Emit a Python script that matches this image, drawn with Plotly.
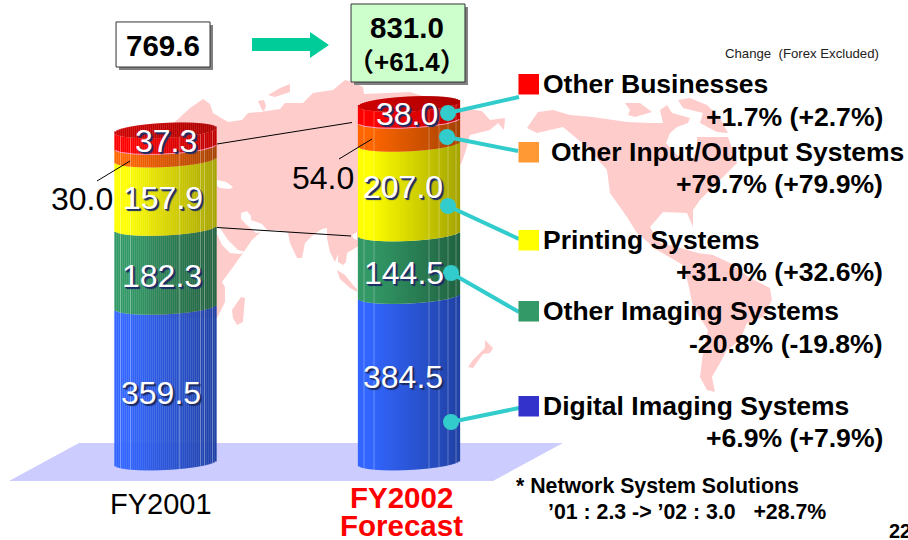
import math
import plotly.graph_objects as go

# ---------- data ----------
categories = ["FY2001", "FY2002 Forecast"]
segments = ["Digital Imaging Systems", "Other Imaging Systems", "Printing Systems",
            "Other Input/Output Systems", "Other Businesses"]
fy2001 = [359.5, 182.3, 157.9, 30.0, 37.3]
fy2002 = [384.5, 144.5, 207.0, 54.0, 38.0]
totals = ["769.6", "831.0"]
total_change = "（+61.4）"
changes = ["+6.9% (+7.9%)", "-20.8% (-19.8%)", "+31.0% (+32.6%)", "+79.7% (+79.9%)", "+1.7% (+2.7%)"]

# ---------- style ----------
W, H = 908, 540
BASE_PX, PX_PER_UNIT = 462.5, 0.433
SAG, TILT = 7.5, 2.5
FONT = "Liberation Sans"
face_colors = [(0x33, 0x66, 0xff), (0x33, 0x99, 0x66), (0xff, 0xff, 0x00), (0xff, 0x66, 0x00), (0xff, 0x00, 0x00)]
key_colors = ["#3333cc", "#339966", "#ffff00", "#ff9933", "#ff0000"]
TEAL = "#33cccc"
PINK = "#ffcccc"


def fx(x): return x / W
def fy(y): return 1 - y / H
def path(pts): return "M " + " L ".join(f"{fx(x):.4f} {fy(y):.4f}" for x, y in pts) + " Z"


shapes = []


def poly(pts, fill, layer="below", line=None, lw=0):
    shapes.append(dict(type="path", path=path(pts), xref="paper", yref="paper", fillcolor=fill,
                       line=dict(width=lw, color=line or fill), layer=layer))


def rect(x0, y0, x1, y1, fill, line=None, lw=0):
    poly([(x0, y0), (x1, y0), (x1, y1), (x0, y1)], fill, "above", line, lw)


def seg(x0, y0, x1, y1, color, w):
    shapes.append(dict(type="line", xref="paper", yref="paper", x0=fx(x0), y0=fy(y0), x1=fx(x1), y1=fy(y1),
                       line=dict(color=color, width=w), layer="above"))


# ---------- world map backdrop ----------
eurasia = [(150, 140), (176, 121), (190, 108), (203, 99), (210, 104), (213, 113), (228, 122), (242, 120), (248, 113),
           (260, 112), (280, 109), (285, 103), (303, 103), (313, 93), (333, 90), (345, 80), (352, 82), (363, 87),
           (364, 94), (410, 92), (460, 108), (482, 111), (490, 120), (505, 118), (504, 130), (498, 123), (490, 130),
           (470, 135), (466, 150), (462, 162), (440, 200), (357, 247), (347, 253), (346, 262), (343, 265), (338, 262),
           (338, 254), (335, 262), (330, 252), (327, 238), (327, 228), (322, 229), (313, 235), (305, 243), (302, 258),
           (297, 258), (290, 243), (288, 233), (278, 230), (262, 231), (252, 240), (243, 253), (233, 267), (222, 282),
           (225, 287), (225, 302), (217, 318), (150, 318)]
holes = [[(217, 180), (226, 182), (233, 187), (230, 189), (220, 188), (217, 186)],
         [(241, 213), (247, 211), (251, 216), (251, 220), (262, 224), (268, 231), (256, 233), (248, 226), (241, 219)],
         [(217, 227), (220, 228), (228, 240), (238, 250), (245, 252), (240, 254), (230, 253), (222, 245), (217, 234)],
         [(352, 235), (357, 232), (357, 240), (353, 238)]]
islands = [
    [(258, 101), (264, 100), (266, 106), (264, 111), (262, 110)],
    [(268, 95), (280, 88), (290, 84), (290, 92), (275, 97)],
    [(337, 270), (345, 275), (353, 285), (357, 289), (357, 292), (350, 288), (340, 279)],
    [(241, 297), (245, 298), (244, 310), (243, 322), (237, 325), (233, 318), (232, 310)],
    [(485, 340), (493, 348), (490, 353), (483, 354), (473, 368), (468, 367), (473, 360), (485, 348)],
    [(625, 103), (640, 103), (652, 112), (635, 117), (628, 115), (630, 110)],
    [(678, 100), (690, 98), (707, 105), (720, 118), (728, 133), (717, 132), (700, 123), (703, 113), (683, 108)],
]
americas = [(527, 128), (538, 112), (553, 110), (570, 115), (593, 117), (627, 122), (650, 123), (663, 123), (660, 110),
            (667, 105), (672, 113), (690, 118), (688, 123), (677, 127), (670, 133), (666, 143), (672, 150), (683, 160),
            (693, 158), (697, 147), (697, 137), (728, 137), (737, 163), (723, 177), (713, 187), (700, 200), (693, 210),
            (693, 227), (687, 213), (663, 212), (650, 227), (660, 243), (677, 247), (698, 253), (713, 255), (730, 263),
            (750, 278), (770, 288), (772, 300), (763, 317), (747, 323), (740, 340), (727, 350), (720, 363), (712, 377),
            (715, 392), (707, 390), (700, 377), (703, 353), (708, 330), (693, 307), (688, 283), (683, 265), (657, 250),
            (637, 233), (627, 217), (610, 193), (607, 170), (587, 147), (563, 127), (537, 133)]
poly(eurasia, PINK)
for p in holes:
    poly(p, "#ffffff")
for p in islands:
    poly(p, PINK)
poly(americas, PINK)
poly([(9, 481), (79, 443), (563, 443), (493, 481)], "#ccccff")

# ---------- cylinders (stacked bars on the value axis) ----------
fig = go.Figure()
N = 51


def to_units(px): return px / PX_PER_UNIT


def offset_units(t):
    """vertical position of the ellipse's front edge, in value units"""
    return to_units(TILT * t - SAG * math.sqrt(max(0.0, 1 - t * t)))


def back_units(t):
    return to_units(TILT * t + SAG * math.sqrt(max(0.0, 1 - t * t)))


def shade(rgb, u, floor):
    k = 1.0 if u < 0.12 else 1 - (1 - floor) * (u - 0.12) / 0.88
    return "rgb({},{},{})".format(*[int(c * k) for c in rgb])


cylinders = [(114.5, fy2001, [6, 16, 65, 86, 90, 98]), (358.0, fy2002, [6, 16, 71, 81, 90, 98])]
for left, vals, facets in cylinders:
    xs = [left + 2 * i + 1 for i in range(N)]
    ts = [(x - left - N) / N for x in xs]
    us = [i / (N - 1) for i in range(N)]
    cum = 0.0
    for rgb, v, name in zip(face_colors, vals, segments):
        fig.add_trace(go.Bar(x=xs, y=[v] * N, base=[cum + offset_units(t) for t in ts], width=[2.3] * N,
                             marker=dict(color=[shade(rgb, u, 0.75 if rgb == (255, 0, 0) else 0.65) for u in us],
                                         line=dict(width=0)),
                             name=name, showlegend=False, hoverinfo="skip"))
        cum += v
    top = cum
    fig.add_trace(go.Bar(x=xs, y=[back_units(t) - offset_units(t) for t in ts],
                         base=[top + offset_units(t) for t in ts], width=[2.3] * N,
                         marker=dict(color=[shade((0xcc, 0, 0), u, 0.85) for u in us], line=dict(width=0)),
                         showlegend=False, hoverinfo="skip"))
    # pink rim at the Other Businesses / Other Input-Output joint
    rim = sum(vals[:4])
    fig.add_trace(go.Scatter(x=xs, y=[rim + offset_units(t) for t in ts], mode="lines",
                             line=dict(color="#ff99bb", width=1), showlegend=False, hoverinfo="skip"))
    # faint facet edges
    fx_x, fx_y = [], []
    for f in facets:
        t = (left + f - left - N) / N
        fx_x += [left + f, left + f, None]
        fx_y += [offset_units(t), top + offset_units(t), None]
    fig.add_trace(go.Scatter(x=fx_x, y=fx_y, mode="lines", line=dict(color="rgba(255,255,255,0.28)", width=1),
                             showlegend=False, hoverinfo="skip"))

# ---------- annotations ----------
ann = []


def text(x, y, s, size, color="#000000", bold=False, anchor="center", shadow=None):
    f = dict(family=FONT + ", Noto Sans CJK JP", size=size, color=color, weight=700 if bold else 400)
    if shadow:
        f["shadow"] = shadow
    ann.append(dict(x=fx(x), y=fy(y), xref="paper", yref="paper", text=s, showarrow=False, xanchor=anchor,
                    yanchor="middle", font=f, borderpad=0))


# thin black leaders
seg(217, 144, 352, 122.5, "#000000", 1)
seg(217, 227.5, 351, 236, "#000000", 1)
seg(97, 181, 130, 161, "#000000", 1)
seg(339, 159, 372, 139, "#000000", 1)

# boxes and arrow
rect(119, 25, 213, 70, "#808080")
rect(116, 22, 210, 67, "#ffffff", "#333333", 1)
rect(354, 7, 468, 85, "#808080")
rect(351, 4, 465, 82, "#ccffcc", "#333333", 1)
poly([(252, 38), (310, 38), (310, 32), (329, 45), (310, 58), (310, 51), (252, 51)], "#00cc99", "above")
text(163, 45, totals[0], 29.5, bold=True)
text(407, 28, totals[1], 29.5, bold=True)
text(407, 62, total_change, 26, bold=True)

# value labels
SH = "2px 2px 1px #1c2c66, 1px 1px 0 #1c2c66"
pos_2001 = [(161, 393), (162, 276), (162.5, 198), None, (166, 141)]
pos_2002 = [(402.5, 377), (404, 273), (403, 187), None, (407, 114)]
for vals, pos in ((fy2001, pos_2001), (fy2002, pos_2002)):
    for v, p in zip(vals, pos):
        if p is not None:
            text(p[0], p[1], f"{v:.1f}", 32, "#ffffff", shadow=SH)
text(82, 199, f"{fy2001[3]:.1f}", 32)
text(323, 178, f"{fy2002[3]:.1f}", 32)

# category labels
text(161, 504, categories[0], 29)
text(401, 497, "FY2002", 29.5, "#ff0000", True)
text(401, 525, "Forecast", 29.5, "#ff0000", True)

# legend keys with connectors
dots = [(451, 422), (451, 273), (448, 206), (447, 137), (448, 113)]
ends = [(519, 408), (519, 312), (519, 239), (518, 151), (519, 97)]
key_y = [396, 301, 230, 142, 74]
label_x = [542, 542, 542, 550, 542]
label_y = [406, 311, 240, 152, 84]
pct_y = [438, 344, 272, 184, 117]
for (dx, dy), (ex, ey) in zip(dots, ends):
    seg(dx, dy, ex, ey, TEAL, 4)
    shapes.append(dict(type="circle", xref="paper", yref="paper", x0=fx(dx - 8), x1=fx(dx + 8), y0=fy(dy - 8),
                       y1=fy(dy + 8), fillcolor=TEAL, line=dict(width=0), layer="above"))
for c, ky, lx, ly, py, name, ch in zip(key_colors, key_y, label_x, label_y, pct_y, segments, changes):
    rect(518.5, ky, 539, ky + 20.5, c)
    text(lx, ly, name, 26.5, bold=True, anchor="left")
    text(884, py, ch, 26.6, bold=True, anchor="right")

text(880, 54, "Change\u00a0\u00a0(Forex Excluded)", 13.2, "#222222", anchor="right")
text(515, 486, "* Network System Solutions", 21.3, bold=True, anchor="left")
text(547, 512, "’01 : 2.3 -> ’02 : 3.0\u00a0\u00a0\u00a0+28.7%", 21.3, bold=True, anchor="left")
text(888, 531, "22", 20, bold=True, anchor="left")

fig.update_layout(
    width=W, height=H, margin=dict(l=0, r=0, t=0, b=0), paper_bgcolor="#ffffff", plot_bgcolor="rgba(0,0,0,0)",
    barmode="overlay", showlegend=False, shapes=shapes, annotations=ann,
    xaxis=dict(range=[0, W], visible=False, fixedrange=True),
    yaxis=dict(range=[(BASE_PX - H) / PX_PER_UNIT, BASE_PX / PX_PER_UNIT], visible=False, fixedrange=True),
)
fig.write_html("out.html", config=dict(displayModeBar=False),
               post_script="document.body.style.margin='0';document.documentElement.style.overflow='hidden';")
